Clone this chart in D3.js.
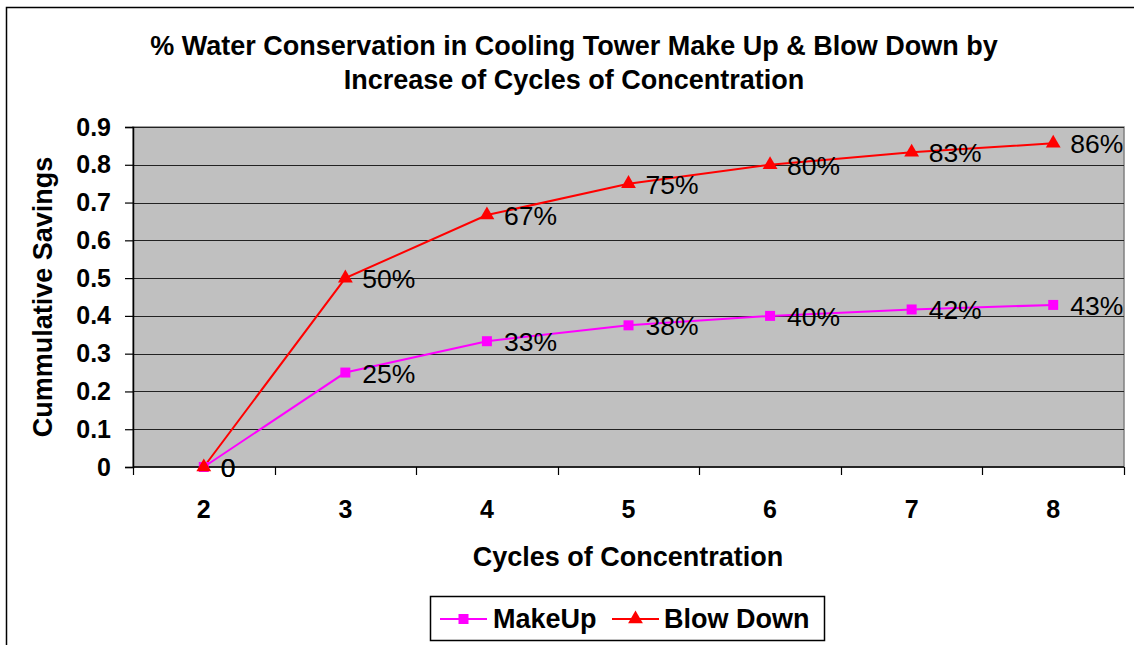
<!DOCTYPE html>
<html>
<head>
<meta charset="utf-8">
<script src="https://cdn.jsdelivr.net/npm/d3@7"></script>
<style>
  html, body { margin: 0; padding: 0; background: #fff; }
  svg { display: block; font-family: "Liberation Sans", Arial, sans-serif; }
</style>
</head>
<body>
<svg id="chart" width="1134" height="645"></svg>
<script>
// Cycles of concentration on the x axis
const cycles = ["2", "3", "4", "5", "6", "7", "8"];
// Fractional savings for each series
const makeUp = [0, 0.25, 0.333, 0.375, 0.40, 0.417, 0.429];
const blowDown = [0, 0.5, 0.667, 0.75, 0.80, 0.833, 0.857];
// Point labels
const makeUpLabels = ["0", "25%", "33%", "38%", "40%", "42%", "43%"];
const blowDownLabels = ["0", "50%", "67%", "75%", "80%", "83%", "86%"];
const yTicks = [0, 0.1, 0.2, 0.3, 0.4, 0.5, 0.6, 0.7, 0.8, 0.9];

const svg = d3.select("#chart");
const W = 1134, H = 645;
const plot = { left: 133, top: 127, right: 1124, bottom: 467 };

// Outer chart frame
svg.append("rect")
  .attr("x", 6.5).attr("y", 7.5)
  .attr("width", W + 10).attr("height", H + 10)
  .attr("fill", "#fff").attr("stroke", "#000").attr("stroke-width", 1.5);

const x = d3.scaleBand().domain(cycles).range([plot.left, plot.right]);
const y = d3.scaleLinear().domain([0, 0.9]).range([plot.bottom, plot.top]);
const cx = d => x(d) + x.bandwidth() / 2;

// Plot area
svg.append("rect")
  .attr("x", plot.left).attr("y", plot.top)
  .attr("width", plot.right - plot.left).attr("height", plot.bottom - plot.top)
  .attr("fill", "#c0c0c0").attr("stroke", "#808080").attr("stroke-width", 1.5);

// Horizontal gridlines
svg.append("g").selectAll("line").data(yTicks.slice(1)).join("line")
  .attr("x1", plot.left).attr("x2", plot.right)
  .attr("y1", d => Math.round(y(d)) + 0.5).attr("y2", d => Math.round(y(d)) + 0.5)
  .attr("stroke", "#222").attr("stroke-width", 1);

// Y axis
const yAxis = svg.append("g")
  .attr("transform", `translate(${plot.left},0)`)
  .call(d3.axisLeft(y).tickValues(yTicks).tickFormat(d => d === 0 ? "0" : d3.format(".1f")(d)).tickSize(8).tickPadding(14));
yAxis.select(".domain").attr("stroke", "#000").attr("stroke-width", 1.5);
yAxis.selectAll(".tick line").attr("stroke", "#000").attr("stroke-width", 1.2);
yAxis.selectAll("text").attr("font-size", 25).attr("font-weight", "bold").attr("fill", "#000")
  .attr("font-family", "Liberation Sans, Arial, sans-serif");

// X axis: ticks on band boundaries, labels at band centres
const xg = svg.append("g");
xg.append("line")
  .attr("x1", plot.left).attr("x2", plot.right)
  .attr("y1", plot.bottom).attr("y2", plot.bottom)
  .attr("stroke", "#000").attr("stroke-width", 1.5);
const bounds = cycles.map(c => x(c)).concat([plot.right]);
xg.selectAll("line.tk").data(bounds).join("line").attr("class", "tk")
  .attr("x1", d => Math.round(d) + 0.5).attr("x2", d => Math.round(d) + 0.5)
  .attr("y1", plot.bottom).attr("y2", plot.bottom + 8)
  .attr("stroke", "#000").attr("stroke-width", 1.2);
xg.selectAll("text").data(cycles).join("text")
  .attr("x", d => cx(d)).attr("y", 518)
  .attr("text-anchor", "middle")
  .attr("font-size", 25).attr("font-weight", "bold").text(d => d);

// Axis titles
svg.append("text")
  .attr("x", 628).attr("y", 566).attr("text-anchor", "middle")
  .attr("font-size", 27).attr("font-weight", "bold").text("Cycles of Concentration");
svg.append("text")
  .attr("transform", "translate(52,297) rotate(-90)").attr("text-anchor", "middle")
  .attr("font-size", 27).attr("font-weight", "bold").text("Cummulative Savings");

// Title
const title = svg.append("text").attr("text-anchor", "middle")
  .attr("font-size", 27).attr("font-weight", "bold");
title.append("tspan").attr("x", 574).attr("y", 55)
  .text("% Water Conservation in Cooling Tower Make Up & Blow Down by");
title.append("tspan").attr("x", 574).attr("y", 89)
  .text("Increase of Cycles of Concentration");

// Series
const series = [
  { name: "MakeUp", values: makeUp, labels: makeUpLabels, color: "#ff00ff", symbol: d3.symbolSquare, size: 100 },
  { name: "Blow Down", values: blowDown, labels: blowDownLabels, color: "#ff0000", symbol: d3.symbolTriangle, size: 95 }
];

const line = d3.line().x((d, i) => cx(cycles[i])).y(d => y(d));

series.forEach(s => {
  svg.append("path").datum(s.values)
    .attr("d", line).attr("fill", "none")
    .attr("stroke", s.color).attr("stroke-width", 2);
});
series.forEach(s => {
  svg.append("g").selectAll("path").data(s.values).join("path")
    .attr("transform", (d, i) => `translate(${cx(cycles[i])},${y(d)})`)
    .attr("d", d3.symbol().type(s.symbol).size(s.size))
    .attr("fill", s.color);
});
series.forEach(s => {
  svg.append("g").selectAll("text").data(s.values).join("text")
    .attr("x", (d, i) => cx(cycles[i]) + 17)
    .attr("y", d => y(d) + 10)
    .attr("font-size", 26.5).attr("fill", "#000")
    .text((d, i) => s.labels[i]);
});

// Legend
const lg = svg.append("g");
lg.append("rect")
  .attr("x", 430.5).attr("y", 596.5).attr("width", 394).attr("height", 44)
  .attr("fill", "#fff").attr("stroke", "#000").attr("stroke-width", 1.5);
const legendItems = [
  { s: series[0], x0: 440, tx: 493 },
  { s: series[1], x0: 612, tx: 664 }
];
legendItems.forEach(it => {
  lg.append("line")
    .attr("x1", it.x0).attr("x2", it.x0 + 47).attr("y1", 619).attr("y2", 619)
    .attr("stroke", it.s.color).attr("stroke-width", 2);
  lg.append("path")
    .attr("transform", `translate(${it.x0 + 23.5},619)`)
    .attr("d", d3.symbol().type(it.s.symbol).size(it.s.size))
    .attr("fill", it.s.color);
  lg.append("text")
    .attr("x", it.tx).attr("y", 628)
    .attr("font-size", 27).attr("font-weight", "bold").text(it.s.name);
});
</script>
</body>
</html>
